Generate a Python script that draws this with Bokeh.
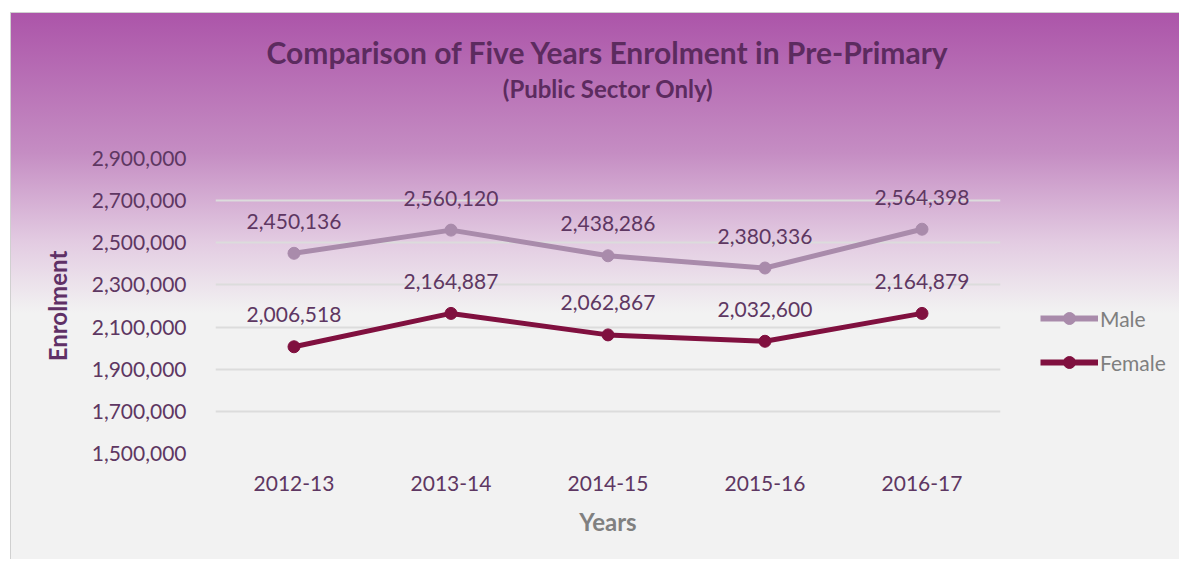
from bokeh.plotting import figure
from bokeh.layouts import row
from bokeh.models import (ColumnDataSource, LabelSet, Legend, LegendItem, Title,
                          NumeralTickFormatter, FixedTicker, Range1d, FactorRange)
from bokeh.core.properties import value
from bokeh.embed import file_html
from bokeh.resources import INLINE

# ---- data ----
years = ["2012-13", "2013-14", "2014-15", "2015-16", "2016-17"]
male = [2450136, 2560120, 2438286, 2380336, 2564398]
female = [2006518, 2164887, 2062867, 2032600, 2164879]
y_ticks = [1500000, 1700000, 1900000, 2100000, 2300000, 2500000, 2700000, 2900000]
title_text = "Comparison of Five Years Enrolment in Pre-Primary"
subtitle_text = "(Public Sector Only)"
series_names = ["Male", "Female"]

FONT = "Lato"
TXT = "#5E3762"
TITLE_C = "#5C2B5F"
MALE_C = "#A98BAB"
FEMALE_C = "#80103F"

src_m = ColumnDataSource(dict(x=years, y=male, lbl=[f"{v:,}" for v in male]))
src_f = ColumnDataSource(dict(x=years, y=female, lbl=[f"{v:,}" for v in female]))

# ---------------- main chart ----------------
p = figure(x_range=years, y_range=(1500000, 2900000), width=1029, height=546,
           output_backend="svg", toolbar_location=None, title=None,
           min_border_left=204, min_border_right=40,
           min_border_top=145, min_border_bottom=106)
p.background_fill_alpha = 0
p.border_fill_alpha = 0
p.outline_line_color = None

# grid
p.xgrid.grid_line_color = None
p.ygrid.grid_line_color = "#DCDCDC"
p.ygrid.grid_line_width = 2

# y axis
p.yaxis.ticker = FixedTicker(ticks=y_ticks)
p.yaxis.formatter = NumeralTickFormatter(format="0,0")
p.yaxis.axis_line_color = None
p.yaxis.major_tick_line_color = None
p.yaxis.minor_tick_line_color = None
p.yaxis.major_label_standoff = 23
p.yaxis.major_label_text_font = FONT
p.yaxis.major_label_text_font_size = "21px"
p.yaxis.major_label_text_color = TXT
p.yaxis.axis_label = "Enrolment"
p.yaxis.axis_label_text_font = FONT
p.yaxis.axis_label_text_font_size = "24px"
p.yaxis.axis_label_text_font_style = "bold"
p.yaxis.axis_label_text_color = "#5F3066"
p.yaxis.axis_label_standoff = 17

# x axis
p.xaxis.axis_line_color = None
p.xaxis.major_tick_line_color = None
p.xaxis.major_label_standoff = 16
p.xaxis.major_label_text_font = FONT
p.xaxis.major_label_text_font_size = "21px"
p.xaxis.major_label_text_color = TXT
p.xaxis.axis_label = "Years"
p.xaxis.axis_label_text_font = FONT
p.xaxis.axis_label_text_font_size = "24px"
p.xaxis.axis_label_text_font_style = "bold"
p.xaxis.axis_label_text_color = "#808080"
p.xaxis.axis_label_standoff = 13

# series
p.line("x", "y", source=src_m, line_color=MALE_C, line_width=5)
p.scatter("x", "y", source=src_m, size=12, fill_color=MALE_C, line_color=MALE_C)
p.line("x", "y", source=src_f, line_color=FEMALE_C, line_width=5)
p.scatter("x", "y", source=src_f, size=12, fill_color=FEMALE_C, line_color=FEMALE_C)

for s in (src_m, src_f):
    p.add_layout(LabelSet(x="x", y="y", text="lbl", source=s, y_offset=32,
                          text_align="center", text_baseline="middle",
                          text_font=value(FONT), text_font_size="21px", text_color=TXT))

# titles: panels stack outward from the frame (first added is nearest)
p.add_layout(Title(text=" ", align="center", standoff=52,
                   text_font=FONT, text_font_size="1px", text_color="#C58DC3"), "above")
p.add_layout(Title(text=subtitle_text, align="center", standoff=2,
                   text_font=FONT, text_font_size="24px", text_font_style="bold",
                   text_color=TITLE_C), "above")
p.add_layout(Title(text=title_text, align="center", standoff=2,
                   text_font=FONT, text_font_size="30px", text_font_style="bold",
                   text_color=TITLE_C), "above")

# ---------------- legend strip ----------------
q = figure(x_range=FactorRange(factors=years), y_range=Range1d(0, 1),
           width=139, height=546, output_backend="svg", toolbar_location=None,
           x_axis_type=None, y_axis_type=None,
           min_border_left=0, min_border_right=0, min_border_top=0, min_border_bottom=0)
q.background_fill_alpha = 0
q.border_fill_alpha = 0
q.outline_line_color = None
q.grid.visible = False
# same series, outside the strip's visible range: only their legend glyphs show
qlm = q.line("x", "y", source=src_m, line_color=MALE_C, line_width=6)
qcm = q.scatter("x", "y", source=src_m, size=14, fill_color=MALE_C, line_color=MALE_C)
qlf = q.line("x", "y", source=src_f, line_color=FEMALE_C, line_width=6)
qcf = q.scatter("x", "y", source=src_f, size=14, fill_color=FEMALE_C, line_color=FEMALE_C)

legend = Legend(items=[LegendItem(label=series_names[0], renderers=[qlm, qcm]),
                       LegendItem(label=series_names[1], renderers=[qlf, qcf])],
                location=(0, 76), orientation="vertical",
                glyph_width=58, glyph_height=30, label_height=20,
                label_standoff=2, spacing=14, padding=0, margin=0,
                border_line_alpha=0, background_fill_alpha=0,
                label_text_font=FONT, label_text_font_size="21px",
                label_text_color="#7F7F7F")
q.add_layout(legend, "center")

layout = row(p, q)
layout.spacing = 0
layout.styles = {
    "margin-left": "10px",
    "margin-top": "12px",
    "background": "linear-gradient(to bottom, #AC55A9 0px, #C58DC3 140px, #E3CCE2 230px, #F2F2F2 300px, #F2F2F2 100%)",
    "border-top": "1px solid #D0D0D0",
    "border-left": "1px solid #D0D0D0",
}

open("out.html", "w").write(file_html(layout, INLINE))
